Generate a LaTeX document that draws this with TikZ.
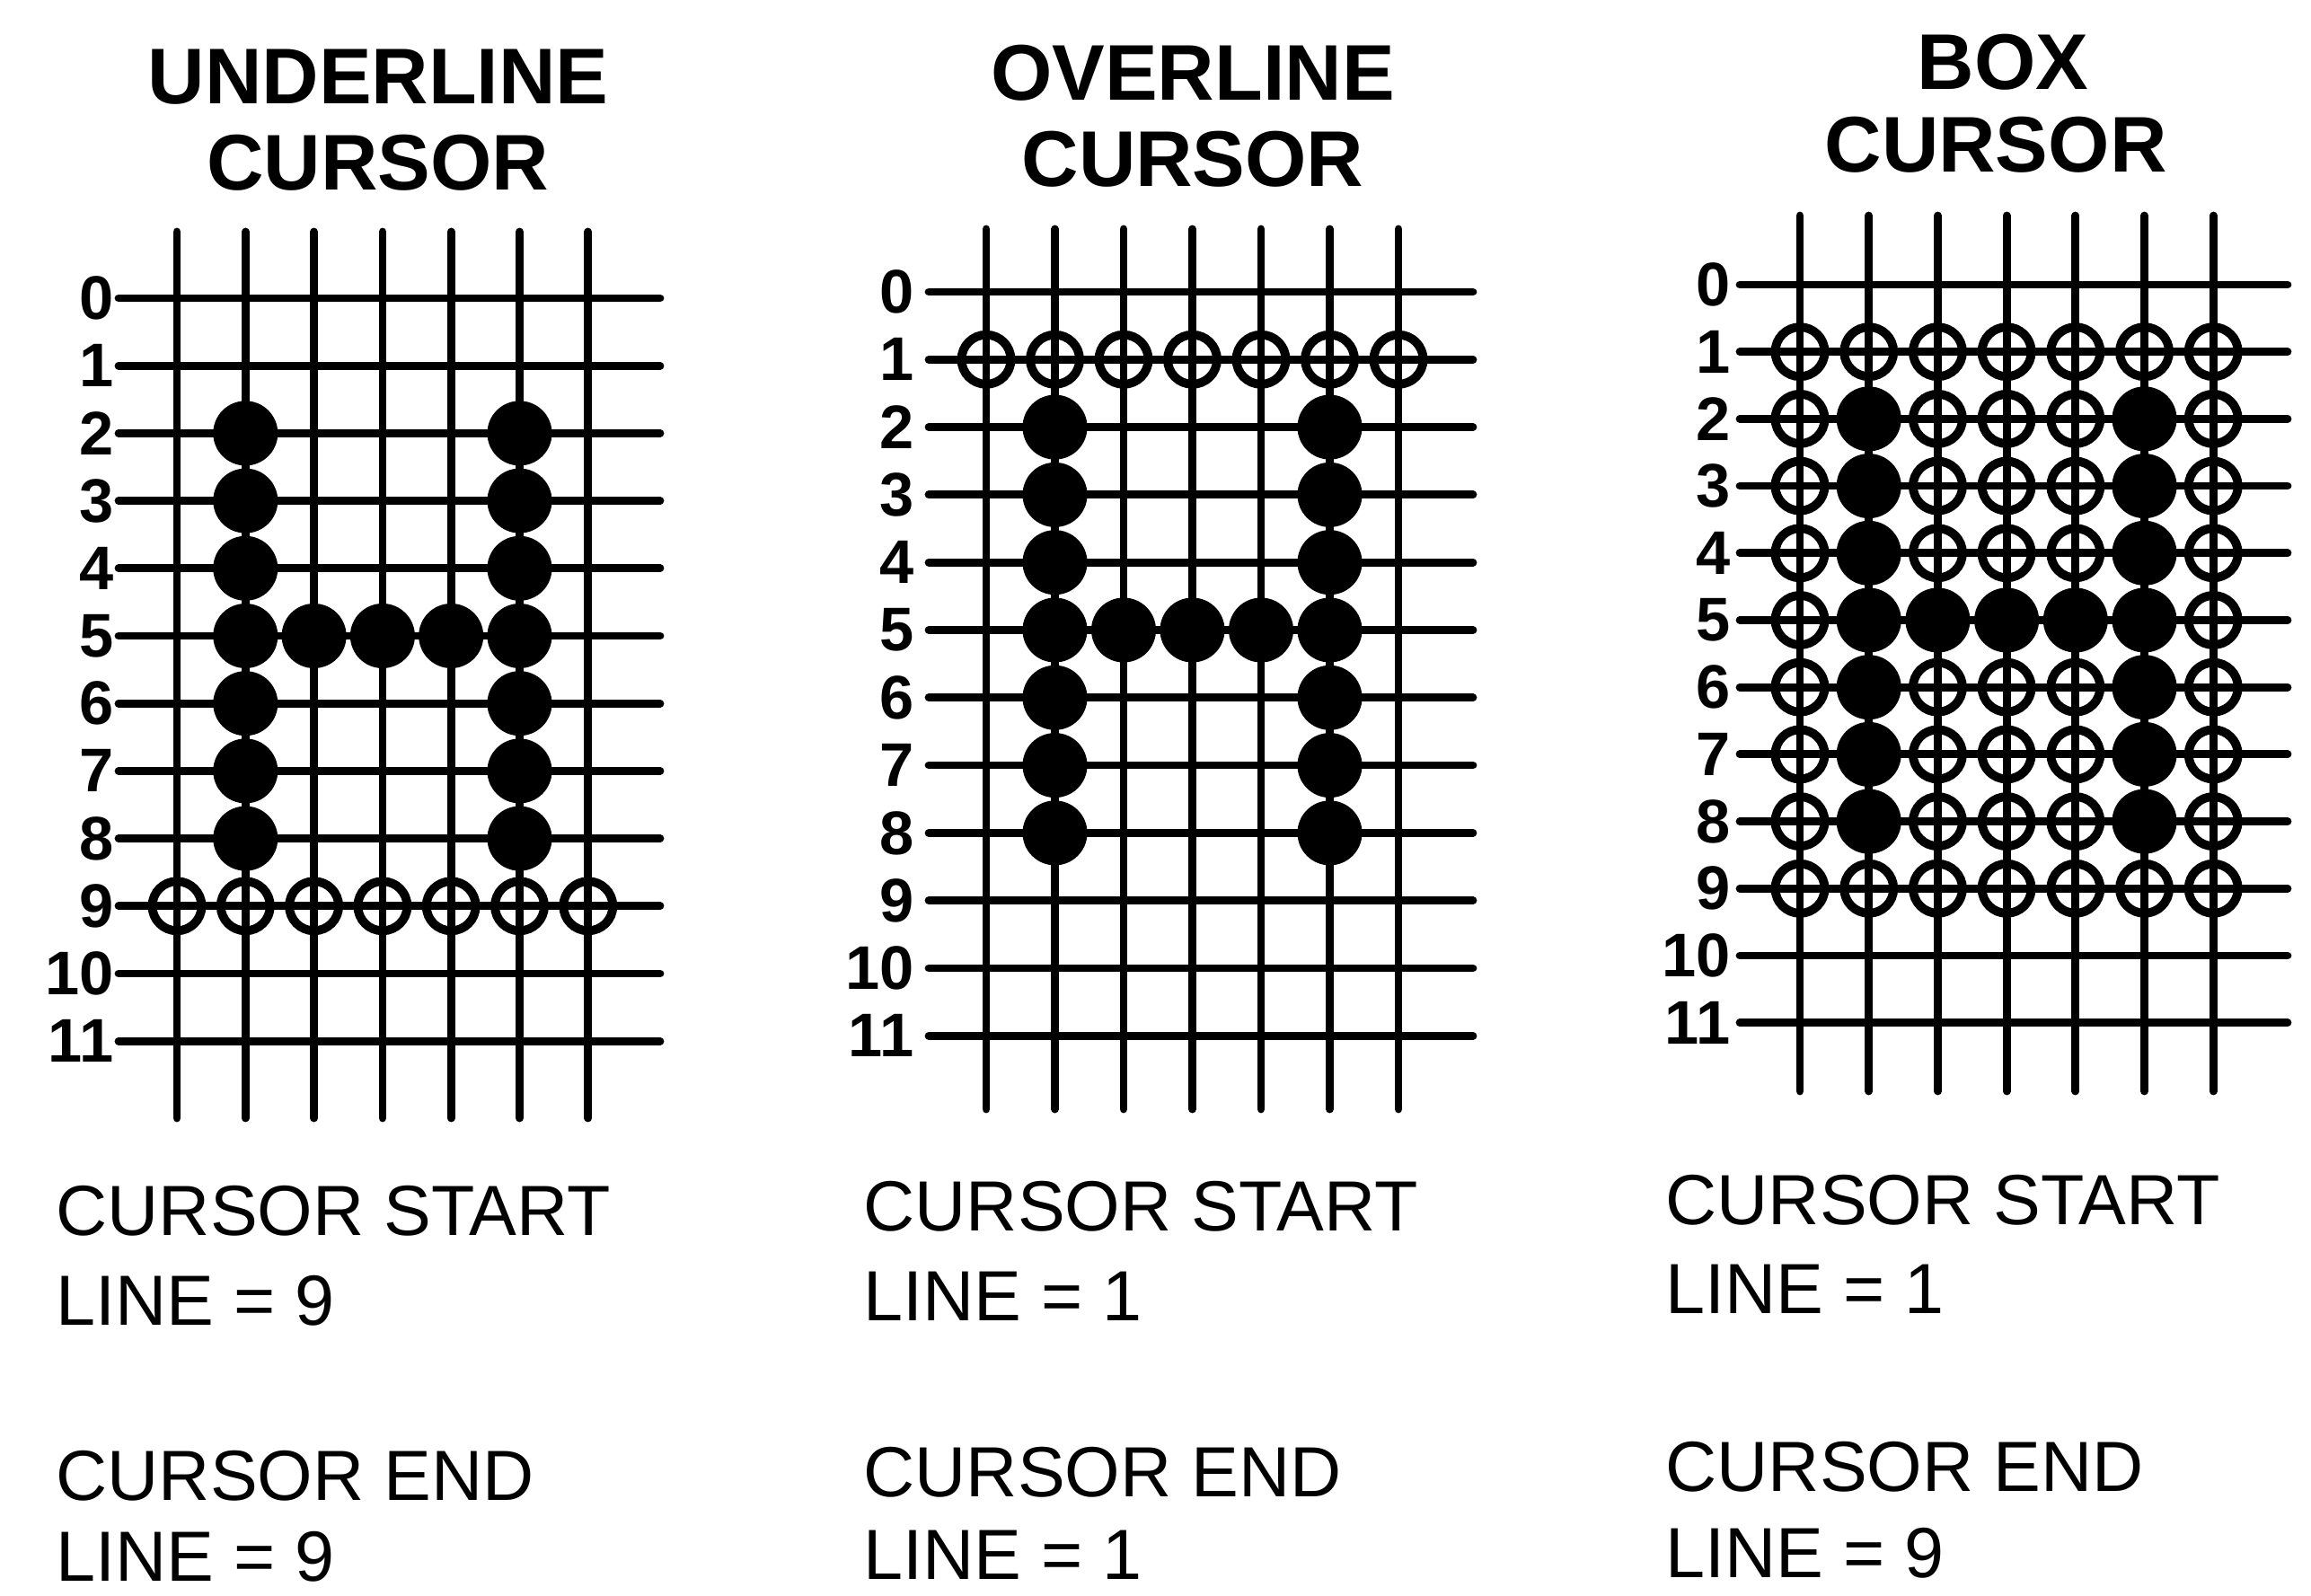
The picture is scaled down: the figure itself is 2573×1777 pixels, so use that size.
\documentclass[tikz,border=0pt]{standalone}
\usepackage{fontspec}
\setmainfont{Liberation Sans}
\begin{document}
\begin{tikzpicture}[x=0.01cm,y=-0.01cm]
\tikzset{
  gridline/.style={line width=2.5pt, line cap=round},
  fulldot/.style={fill=black},
  ringdot/.style={draw=black, line width=2.8pt},
  ttl/.style={font=\fontsize{25}{30}\selectfont\bfseries, anchor=base, inner sep=0pt},
  rowlbl/.style={font=\fontsize{19.5}{22}\selectfont\bfseries, anchor=east, inner sep=0pt},
  note/.style={font=\fontsize{22.5}{27}\selectfont, anchor=base west, inner sep=0pt},
}
\fill[white] (0,0) rectangle (2573,1777);
\useasboundingbox (0,0) rectangle (2573,1777);

% ---------- Panel 1: UNDERLINE ----------
\node[ttl] (t1a) at (421,116) {UNDERLINE};
\node[ttl] (t1b) at (421,212) {CURSOR};
\begin{scope}
  \def\xo{197}\def\dx{76.3}\def\yo{332}\def\dy{75.2}
  \foreach \c in {0,...,6} \draw[gridline] ({\xo+\c*\dx},258) -- ({\xo+\c*\dx},1245);
  \foreach \r in {0,...,11} {
    \draw[gridline] (132,{\yo+\r*\dy}) -- (735,{\yo+\r*\dy});
    \node[rowlbl] (u-l\r) at (127,{\yo+\r*\dy}) {\r};
  }
  \foreach \r in {2,...,8} {
    \fill[fulldot] ({\xo+1*\dx},{\yo+\r*\dy}) circle[radius=0.36cm];
    \fill[fulldot] ({\xo+5*\dx},{\yo+\r*\dy}) circle[radius=0.36cm];
  }
  \foreach \c in {2,3,4} \fill[fulldot] ({\xo+\c*\dx},{\yo+5*\dy}) circle[radius=0.36cm];
  \foreach \c in {0,...,6} \draw[ringdot] ({\xo+\c*\dx},{\yo+9*\dy}) circle[radius=0.275cm];
\end{scope}
\node[note] (s1a) at (62,1375) {CURSOR START};
\node[note] (s1b) at (62,1475) {LINE = 9};
\node[note] (e1a) at (62,1670) {CURSOR END};
\node[note] (e1b) at (62,1760) {LINE = 9};

% ---------- Panel 2: OVERLINE ----------
\node[ttl] (t2a) at (1328,112) {OVERLINE};
\node[ttl] (t2b) at (1328,208) {CURSOR};
\begin{scope}
  \def\xo{1098}\def\dx{76.5}\def\yo{325}\def\dy{75.3}
  \foreach \c in {0,...,6} \draw[gridline] ({\xo+\c*\dx},255) -- ({\xo+\c*\dx},1235);
  \foreach \r in {0,...,11} {
    \draw[gridline] (1034,{\yo+\r*\dy}) -- (1640,{\yo+\r*\dy});
    \node[rowlbl] (o-l\r) at (1018,{\yo+\r*\dy}) {\r};
  }
  \foreach \r in {2,...,8} {
    \fill[fulldot] ({\xo+1*\dx},{\yo+\r*\dy}) circle[radius=0.36cm];
    \fill[fulldot] ({\xo+5*\dx},{\yo+\r*\dy}) circle[radius=0.36cm];
  }
  \foreach \c in {2,3,4} \fill[fulldot] ({\xo+\c*\dx},{\yo+5*\dy}) circle[radius=0.36cm];
  \foreach \c in {0,...,6} \draw[ringdot] ({\xo+\c*\dx},{\yo+1*\dy}) circle[radius=0.275cm];
\end{scope}
\node[note] (s2a) at (961,1370) {CURSOR START};
\node[note] (s2b) at (961,1470) {LINE = 1};
\node[note] (e2a) at (961,1666) {CURSOR END};
\node[note] (e2b) at (961,1758) {LINE = 1};

% ---------- Panel 3: BOX ----------
\node[ttl] (t3a) at (2230,100) {BOX};
\node[ttl] (t3b) at (2222,192) {CURSOR};
\begin{scope}
  \def\xo{2004}\def\dx{76.7}\def\yo{317}\def\dy{74.7}
  \foreach \c in {0,...,6} \draw[gridline] ({\xo+\c*\dx},240) -- ({\xo+\c*\dx},1215);
  \foreach \r in {0,...,11} {
    \draw[gridline] (1937,{\yo+\r*\dy}) -- (2547,{\yo+\r*\dy});
    \node[rowlbl] (b-l\r) at (1927,{\yo+\r*\dy}) {\r};
  }
  \foreach \r in {2,...,8} {
    \fill[fulldot] ({\xo+1*\dx},{\yo+\r*\dy}) circle[radius=0.36cm];
    \fill[fulldot] ({\xo+5*\dx},{\yo+\r*\dy}) circle[radius=0.36cm];
  }
  \foreach \c in {2,3,4} \fill[fulldot] ({\xo+\c*\dx},{\yo+5*\dy}) circle[radius=0.36cm];
  \foreach \r in {1,...,9} {
    \draw[ringdot] ({\xo+0*\dx},{\yo+\r*\dy}) circle[radius=0.275cm];
    \draw[ringdot] ({\xo+6*\dx},{\yo+\r*\dy}) circle[radius=0.275cm];
  }
  \foreach \c in {1,5} {
    \draw[ringdot] ({\xo+\c*\dx},{\yo+1*\dy}) circle[radius=0.275cm];
    \draw[ringdot] ({\xo+\c*\dx},{\yo+9*\dy}) circle[radius=0.275cm];
  }
  \foreach \c in {2,3,4} \foreach \r in {1,2,3,4,6,7,8,9}
    \draw[ringdot] ({\xo+\c*\dx},{\yo+\r*\dy}) circle[radius=0.275cm];
\end{scope}
\node[note] (s3a) at (1854,1363) {CURSOR START};
\node[note] (s3b) at (1854,1462) {LINE = 1};
\node[note] (e3a) at (1854,1660) {CURSOR END};
\node[note] (e3b) at (1854,1756) {LINE = 9};
\end{tikzpicture}
\end{document}
